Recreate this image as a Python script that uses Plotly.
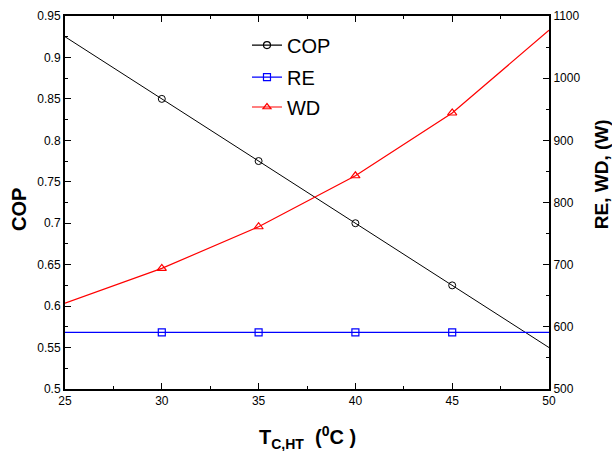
import plotly.graph_objects as go

t_line = [25, 30, 35, 40, 45, 50]
cop = [0.925, 0.85, 0.775, 0.70, 0.625, 0.55]
re_w = [591, 591, 591, 591, 591, 591]
wd_w = [638, 694, 761, 843, 944, 1077]

marker_x = [30, 35, 40, 45]

def inner(vals):
    return vals[1:5]

font = "Liberation Sans, Arial, sans-serif"
fig = go.Figure()

# lines
fig.add_trace(go.Scatter(x=t_line, y=cop, mode="lines", line=dict(color="black", width=1),
                         showlegend=False, hoverinfo="skip"))
fig.add_trace(go.Scatter(x=t_line, y=re_w, mode="lines", line=dict(color="#0000ff", width=1.2),
                         showlegend=False, yaxis="y2", hoverinfo="skip"))
fig.add_trace(go.Scatter(x=t_line, y=wd_w, mode="lines", line=dict(color="#ff0000", width=1.2),
                         showlegend=False, yaxis="y2", hoverinfo="skip"))
# markers
fig.add_trace(go.Scatter(x=marker_x, y=inner(cop), mode="markers", name="COP",
                         marker=dict(symbol="circle-open", size=7, color="black", line=dict(width=1)),
                         showlegend=False))
fig.add_trace(go.Scatter(x=marker_x, y=inner(re_w), mode="markers", name="RE", yaxis="y2",
                         marker=dict(symbol="square-open", size=7, color="#0000ff", line=dict(width=1.2)),
                         showlegend=False))
fig.add_trace(go.Scatter(x=marker_x, y=inner(wd_w), mode="markers", name="WD", yaxis="y2",
                         marker=dict(symbol="triangle-up-open", size=8, color="#ff0000", line=dict(width=1.2)),
                         showlegend=False))
# legend entries, each in its own legend for exact row spacing
for name, color, sym, ya, lg in [("COP", "black", "circle-open", "y", "legend"),
                                 ("RE", "#0000ff", "square-open", "y2", "legend2"),
                                 ("WD", "#ff0000", "triangle-up-open", "y2", "legend3")]:
    fig.add_trace(go.Scatter(x=[None], y=[None], mode="lines+markers", name=name, yaxis=ya,
                             legend=lg,
                             line=dict(color=color, width=1.2),
                             marker=dict(symbol=sym, size=7, color=color, line=dict(width=1.2))))

axis_common = dict(showgrid=False, zeroline=False, showline=True, linecolor="black", linewidth=2,
                   ticks="inside", tickcolor="black", ticklen=6, tickwidth=1, automargin=False,
                   tickfont=dict(family=font, size=12, color="black"))

leg_common = dict(xanchor="left", yanchor="middle", bgcolor="rgba(0,0,0,0)",
                  font=dict(family=font, size=20, color="black"), itemwidth=30)

fig.update_layout(
    width=612, height=451,
    margin=dict(l=65, r=63, t=16, b=62),
    paper_bgcolor="white", plot_bgcolor="white",
    xaxis=dict(range=[25, 50], dtick=5, tick0=25, mirror="ticks",
               minor=dict(dtick=2.5, ticks="inside", ticklen=3, tickcolor="black"),
               **axis_common),
    yaxis=dict(range=[0.5, 0.95], dtick=0.05, tick0=0.5,
               minor=dict(dtick=0.025, ticks="inside", ticklen=3, tickcolor="black"),
               **axis_common),
    yaxis2=dict(range=[500, 1100], dtick=100, tick0=500, overlaying="y", side="right",
                minor=dict(dtick=50, ticks="inside", ticklen=3, tickcolor="black"),
                **axis_common),
    legend=dict(x=0.376, y=0.922, **leg_common),
    legend2=dict(x=0.376, y=0.836, **leg_common),
    legend3=dict(x=0.376, y=0.756, **leg_common),
    annotations=[
        dict(text="<b>T<sub>C,HT</sub>  (<sup>0</sup>C )</b>", xref="paper", yref="paper",
             x=0.5, y=-0.129, xanchor="center", yanchor="middle", showarrow=False,
             font=dict(family=font, size=20, color="black")),
        dict(text="<b>COP</b>", xref="paper", yref="paper", x=-0.095, y=0.48,
             xanchor="center", yanchor="middle", textangle=-90, showarrow=False,
             font=dict(family=font, size=20, color="black")),
        dict(text="<b>RE, WD, (W)</b>", xref="paper", yref="paper", x=1.1075, y=0.576,
             xanchor="center", yanchor="middle", textangle=-90, showarrow=False,
             font=dict(family=font, size=19, color="black")),
    ],
)

fig.write_html("out.html", config={"displayModeBar": False},
               post_script="document.body.style.margin='0';document.body.style.overflow='hidden';")
